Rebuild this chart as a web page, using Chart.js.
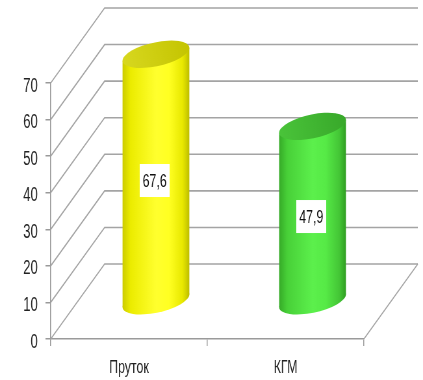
<!DOCTYPE html>
<html>
<head>
<meta charset="utf-8">
<script src="https://cdn.jsdelivr.net/npm/chart.js@4"></script>
<style>
  html, body { margin: 0; padding: 0; background: #fff; overflow: hidden; }
</style>
</head>
<body>
<!-- drawn on a wider canvas and shown narrower, which gives the condensed lettering -->
<canvas id="c" width="651" height="380" style="display:block;width:423px;height:380px"></canvas>
<script>
const categories = ['Пруток', 'КГМ'];
const values = [67.6, 47.9];
const yTicks = [0, 10, 20, 30, 40, 50, 60, 70];

// colour stops for the cylinder bodies (left edge -> right edge) and their caps
const bodyStops = [
  ['#cccc00', '#ecec00', '#ffff2e', '#ffff22', '#e8e800', '#bdbd00'],
  ['#36aa28', '#48d038', '#5cf04c', '#56ea46', '#44c636', '#309e22']
];
const capColors = [
  ['#d8d820', '#c4c400'],
  ['#4ac43a', '#38a82a']
];

// depth of the box drawn behind the plotting plane
const DEPTH_X = 83;
const DEPTH_Y = -75;
const FONT = '"Liberation Sans", Arial, sans-serif';
const GRID = '#a4a4a4';

const wallPlugin = {
  id: 'wall3d',
  beforeDatasetsDraw(chart) {
    const { ctx, chartArea: { left, right }, scales: { y } } = chart;
    ctx.save();
    ctx.strokeStyle = GRID;
    ctx.lineWidth = 1.6;
    yTicks.forEach(v => {
      const py = y.getPixelForValue(v);
      ctx.beginPath();
      ctx.moveTo(left, py);
      ctx.lineTo(left + DEPTH_X, py + DEPTH_Y);
      ctx.lineTo(right + DEPTH_X, py + DEPTH_Y);
      ctx.stroke();
    });
    const y0 = y.getPixelForValue(0);
    ctx.beginPath();
    ctx.moveTo(right, y0);
    ctx.lineTo(right + DEPTH_X, y0 + DEPTH_Y);
    ctx.stroke();
    ctx.restore();
  }
};

const cylinderPlugin = {
  id: 'cylinders',
  afterDatasetsDraw(chart) {
    const { ctx } = chart;
    const meta = chart.getDatasetMeta(0);
    meta.data.forEach((bar, i) => {
      const cx = bar.x + DEPTH_X / 2;
      const yTop = bar.y + DEPTH_Y / 2;
      const yBase = bar.base + DEPTH_Y / 2;
      const rx = bar.width / 2;
      const ry = 12;
      const rot = -0.13;
      const c = Math.cos(rot), s = Math.sin(rot);
      // rightmost point of the tilted ellipse (leftmost is its mirror)
      const t0 = Math.atan2(-ry * s, rx * c);
      const px = rx * Math.cos(t0) * c - ry * Math.sin(t0) * s;
      const py = rx * Math.cos(t0) * s + ry * Math.sin(t0) * c;

      ctx.save();
      const g = ctx.createLinearGradient(cx - px, 0, cx + px, 0);
      const st = bodyStops[i];
      [0, 0.12, 0.5, 0.7, 0.9, 1].forEach((p, k) => g.addColorStop(p, st[k]));
      ctx.fillStyle = g;
      ctx.beginPath();
      ctx.ellipse(cx, yBase, rx, ry, rot, 0, Math.PI * 2);
      ctx.fill();
      ctx.beginPath();
      ctx.moveTo(cx - px, yTop - py);
      ctx.lineTo(cx - px, yBase - py);
      ctx.lineTo(cx + px, yBase + py);
      ctx.lineTo(cx + px, yTop + py);
      ctx.closePath();
      ctx.fill();

      const cg = ctx.createLinearGradient(cx - rx, yTop + ry, cx + rx, yTop - ry);
      cg.addColorStop(0, capColors[i][0]);
      cg.addColorStop(1, capColors[i][1]);
      ctx.fillStyle = cg;
      ctx.beginPath();
      ctx.ellipse(cx, yTop, rx, ry, rot, 0, Math.PI * 2);
      ctx.fill();

      // value label in a white box at mid height
      const text = values[i].toFixed(1).replace('.', ',');
      const my = (yTop + yBase) / 2 + 3;
      const bw = 46, bh = 33;
      ctx.fillStyle = '#ffffff';
      ctx.fillRect(cx - bw / 2 - 2, my - bh / 2, bw, bh);
      ctx.fillStyle = '#111';
      ctx.font = '19px ' + FONT;
      ctx.textAlign = 'center';
      ctx.textBaseline = 'middle';
      ctx.fillText(text, cx - 2, my + 1);
      ctx.restore();
    });
  }
};

new Chart(document.getElementById('c'), {
  type: 'bar',
  data: {
    labels: categories,
    datasets: [{
      data: values,
      backgroundColor: 'rgba(0,0,0,0)',
      borderWidth: 0,
      barPercentage: 0.43,
      categoryPercentage: 1
    }]
  },
  options: {
    responsive: false,
    devicePixelRatio: 1,
    animation: false,
    layout: { padding: { top: 83, right: 91, left: 0, bottom: 0 } },
    plugins: { legend: { display: false }, tooltip: { enabled: false } },
    scales: {
      x: {
        grid: { offset: true, drawOnChartArea: false, tickLength: 7, color: '#9a9a9a', lineWidth: 1.5 },
        border: { color: '#9a9a9a', width: 1.6 },
        ticks: { font: { family: FONT, size: 19 }, color: '#222', padding: 10 },
        afterFit(s) { s.height = 41; }
      },
      y: {
        min: 0,
        max: 70,
        afterBuildTicks(s) { s.ticks = yTicks.map(v => ({ value: v })); },
        grid: { drawOnChartArea: false, tickLength: 8, color: '#9a9a9a', lineWidth: 1.5 },
        border: { color: '#9a9a9a', width: 1.6 },
        ticks: { font: { family: FONT, size: 20 }, color: '#222', padding: 12, labelOffset: 3 },
        afterFit(s) { s.width = 78; }
      }
    }
  },
  plugins: [wallPlugin, cylinderPlugin]
});
</script>
</body>
</html>
